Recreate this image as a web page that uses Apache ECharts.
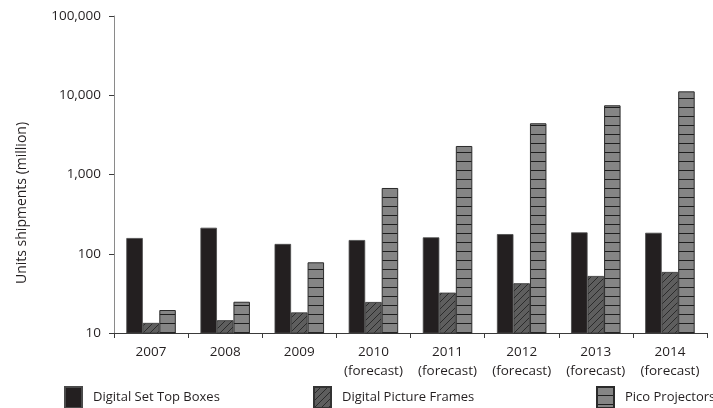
<!DOCTYPE html>
<html>
<head>
<meta charset="utf-8">
<script src="https://cdn.jsdelivr.net/npm/echarts@6/dist/echarts.min.js"></script>
<style>
  html, body { margin: 0; padding: 0; background: #fff; }
  #chart { width: 713px; height: 408px; }
</style>
</head>
<body>
<div id="chart"></div>
<script>
// Unit shipments per year, millions (log scale)
const years = ['2007', '2008', '2009', '2010\n(forecast)', '2011\n(forecast)', '2012\n(forecast)', '2013\n(forecast)', '2014\n(forecast)'];
const setTopBoxes = [158, 213, 133, 149, 161, 177, 186, 184];
const pictureFrames = [13.4, 14.5, 18.2, 24.6, 32.3, 42.4, 52.4, 58.9];
const picoProjectors = [19.5, 24.8, 78, 676, 2290, 4430, 7470, 11200];
const seriesNames = ['Digital Set Top Boxes', 'Digital Picture Frames', 'Pico Projectors'];
const yAxisTitle = 'Units shipments (million)';

const FONT = '"Open Sans", Lato, sans-serif';
const TEXT = '#231f20';

// Diagonal hatch tile for the picture-frame bars
function hatchPattern() {
  const c = document.createElement('canvas');
  c.width = 7; c.height = 7;
  const g = c.getContext('2d');
  g.fillStyle = '#5e5e5e';
  g.fillRect(0, 0, 7, 7);
  g.strokeStyle = '#2b2b2b';
  g.lineWidth = 1;
  g.beginPath();
  g.moveTo(-1, 8); g.lineTo(8, -1);
  g.moveTo(-8, 8); g.lineTo(1, -1);
  g.moveTo(6, 8); g.lineTo(15, -1);
  g.stroke();
  return { image: c, repeat: 'repeat' };
}

// Horizontal stripe tile for the projector bars
function stripePattern() {
  const c = document.createElement('canvas');
  c.width = 4; c.height = 9;
  const g = c.getContext('2d');
  g.fillStyle = '#858585';
  g.fillRect(0, 0, 4, 9);
  g.fillStyle = '#1e1e1e';
  g.fillRect(0, 8, 4, 1.3);
  return { image: c, repeat: 'repeat' };
}

const chart = echarts.init(document.getElementById('chart'), null, { renderer: 'canvas' });

const legendBase = {
  orient: 'horizontal',
  top: 386,
  padding: 0,
  itemWidth: 17,
  itemHeight: 21,
  itemGap: 10,
  icon: 'rect',
  textStyle: { fontFamily: FONT, fontSize: 13, color: TEXT, padding: [0, 0, 0, 6] }
};

chart.setOption({
  animation: false,
  backgroundColor: '#ffffff',
  grid: { left: 114, right: 6, top: 16, bottom: 75, containLabel: false },
  legend: [
    Object.assign({}, legendBase, { left: 64, data: [seriesNames[0]] }),
    Object.assign({}, legendBase, { left: 313, data: [seriesNames[1]] }),
    Object.assign({}, legendBase, {
      left: 596, data: [seriesNames[2]],
      textStyle: Object.assign({}, legendBase.textStyle, { padding: [0, 0, 9, 6] })
    })
  ],
  graphic: [{
    type: 'text',
    rotation: Math.PI / 2,
    x: 22, y: 203,
    style: {
      text: yAxisTitle,
      fontFamily: FONT, fontSize: 14, fill: TEXT,
      align: 'center', verticalAlign: 'middle'
    }
  }],
  xAxis: {
    type: 'category',
    data: years,
    axisLine: { lineStyle: { color: '#3a3a3a', width: 1 } },
    axisTick: { show: true, interval: 0, length: 5, lineStyle: { color: '#3a3a3a' } },
    axisLabel: {
      interval: 0,
      fontFamily: FONT, fontSize: 13.5, color: TEXT, margin: 10, lineHeight: 19
    }
  },
  yAxis: {
    type: 'log',
    logBase: 10,
    min: 10,
    max: 100000,
    axisLine: { show: true, lineStyle: { color: '#8a8a8a', width: 1 } },
    axisTick: { show: true, length: 5, lineStyle: { color: '#3a3a3a' } },
    splitLine: { show: false },
    axisLabel: {
      fontFamily: FONT, fontSize: 13.5, color: TEXT, margin: 13,
      formatter: v => Math.round(v).toLocaleString('en-US')
    }
  },
  series: [
    {
      name: seriesNames[0], type: 'bar', data: setTopBoxes,
      barWidth: 16.5, barGap: '0%',
      itemStyle: { color: '#231f20', borderColor: '#4a4a4a', borderWidth: 0.8 }
    },
    {
      name: seriesNames[1], type: 'bar', data: pictureFrames,
      barWidth: 16.5, barGap: '0%',
      itemStyle: { color: hatchPattern(), borderColor: '#333333', borderWidth: 0.8 }
    },
    {
      name: seriesNames[2], type: 'bar', data: picoProjectors,
      barWidth: 16.5, barGap: '0%',
      itemStyle: { color: stripePattern(), borderColor: '#2a2a2a', borderWidth: 1 }
    }
  ]
});
</script>
</body>
</html>
